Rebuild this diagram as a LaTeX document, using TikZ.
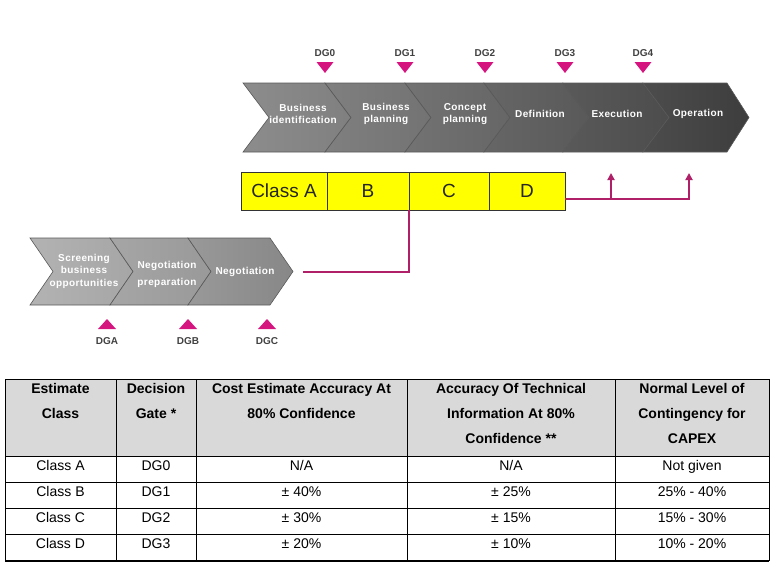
\documentclass[tikz,border=0pt]{standalone}
\usepackage{fontspec}
\setmainfont{Liberation Sans}
\usetikzlibrary{positioning, arrows.meta}

\definecolor{gatepink}{RGB}{214,20,128}
\definecolor{linkpink}{RGB}{176,32,104}
\definecolor{boxyellow}{RGB}{255,255,0}
\definecolor{headgray}{RGB}{217,217,217}

\begin{document}
\begin{tikzpicture}[
  x=1pt, y=-1pt,
  chev/.style={draw=black!65, line width=0.6pt},
  stage/.style={text=white, align=center, inner sep=0pt,
                font=\fontsize{10}{12}\selectfont\bfseries\addfontfeature{LetterSpace=4}},
  gate/.style={fill=gatepink},
  gatelbl/.style={text=black!75, inner sep=0pt, font=\fontsize{10}{12}\selectfont\bfseries},
  cls/.style={rectangle, draw=black!80, fill=boxyellow, line width=0.8pt,
              minimum height=38pt, inner sep=0pt, outer sep=0pt,
              font=\fontsize{19}{22}\selectfont, text=black!85},
  link/.style={draw=linkpink, line width=2pt},
  arr/.style={link, -{Triangle[length=7pt, width=7pt]}},
  th/.style={anchor=north, align=center, inner sep=0pt,
             font=\fontsize{14}{25}\selectfont\bfseries},
  td/.style={inner sep=0pt, text height=10pt, text depth=3pt,
             font=\fontsize{14}{16}\selectfont},
  tabline/.style={draw=black, line width=0.8pt}
]
  \useasboundingbox (0,0) rectangle (773,568);

  % project phases
  \foreach \x/\w/\d/\ca/\cb in {243/82/26/45/50, 325/80/26/50/55, 405/79/26/55/60,
                               484/79/26/60/65, 563/80/26/65/70, 643/84/22/70/76}
    \path[chev, left color=black!\ca, right color=black!\cb]
      (\x,83) -- ++(\w,0) -- ++(\d,34.5) -- ++(-\d,34.5) -- ++(-\w,0) -- ++(26,-34.5) -- cycle;

  \node[stage] (bi) at (303,114) {Business\\identification};
  \node[stage] (bp) at (386,114) {Business\\planning};
  \node[stage] (cp) at (465,114) {Concept\\planning};
  \node[stage] (df) at (540,114) {Definition};
  \node[stage] (ex) at (617,114) {Execution};
  \node[stage] (op) at (698,114) {Operation};

  \foreach \x/\g in {325/0, 405/1, 485/2, 565/3, 643/4} {
    \node[gatelbl] (dg\g) at (\x,53) {DG\g};
    \fill[gate] (\x,73) -- ++(-8.5,-11) -- ++(17,0) -- cycle;
  }

  % negotiation phases
  \foreach \x/\w/\ca/\cb in {30/80/30/35, 110/78/35/40, 188/82/40/47}
    \path[chev, left color=black!\ca, right color=black!\cb]
      (\x,238) -- ++(\w,0) -- ++(23,33.5) -- ++(-23,33.5) -- ++(-\w,0) -- ++(23,-33.5) -- cycle;

  \node[stage, font=\fontsize{10}{12.5}\selectfont\bfseries\addfontfeature{LetterSpace=4}]
    (sb) at (84,271) {Screening\\business\\opportunities};
  \node[stage] (np) at (167,274) {Negotiation\\[5pt]preparation};
  \node[stage] (ng) at (245,272) {Negotiation};

  \foreach \x/\g in {107/A, 188/B, 267/C} {
    \node[gatelbl] (dg\g) at (\x,341) {DG\g};
    \fill[gate] (\x,319) -- ++(-9,10) -- ++(18,0) -- cycle;
  }

  % estimate classes
  \node[cls, minimum width=86pt, anchor=north west] (ca) at (241,172) {Class A};
  \node[cls, minimum width=82pt, right=0pt of ca] (cb) {B};
  \node[cls, minimum width=80pt, right=0pt of cb] (cc) {C};
  \node[cls, minimum width=76pt, right=0pt of cc] (cd) {D};

  \coordinate (ngtip) at (303,272);
  \coordinate (dout) at ([yshift=-8pt]cd.east);
  \coordinate (exup) at (611,173);
  \coordinate (opup) at (689,173);

  \draw[link] (ngtip) -| (cc.south west);
  \draw[arr] (dout) -| (opup);
  \draw[arr] (dout -| exup) -- (exup);

  % table
  \fill[headgray] (5,379) rectangle (769,456);
  \foreach \y in {379, 456, 482, 508, 534}
    \draw[tabline] (5,\y) -- (769,\y);
  \draw[tabline, line width=1.3pt] (5,561) -- (769,561);
  \foreach \x in {5, 116, 196, 407, 615, 769}
    \draw[tabline] (\x,379) -- (\x,561);

  \node[th] (h1) at (60.5,383) {Estimate\\Class};
  \node[th] (h2) at (156,383) {Decision\\Gate *};
  \node[th] (h3) at (301.5,383) {Cost Estimate Accuracy At\\80\% Confidence};
  \node[th] (h4) at (511,383) {Accuracy Of Technical\\Information At 80\%\\Confidence **};
  \node[th] (h5) at (692,383) {Normal Level of\\Contingency for\\CAPEX};

  \foreach \a/\b/\c/\d/\e/\y [count=\i] in {
      Class A/DG0/{N/A}/{N/A}/Not given/467,
      Class B/DG1/± 40\%/± 25\%/25\% - 40\%/492.5,
      Class C/DG2/± 30\%/± 15\%/15\% - 30\%/518.5,
      Class D/DG3/± 20\%/± 10\%/10\% - 20\%/544.5} {
    \node[td] (r\i-1) at (60.5,\y) {\a};
    \node[td] (r\i-2) at (156,\y) {\b};
    \node[td] (r\i-3) at (301.5,\y) {\c};
    \node[td] (r\i-4) at (511,\y) {\d};
    \node[td] (r\i-5) at (692,\y) {\e};
  }
\end{tikzpicture}
\end{document}
